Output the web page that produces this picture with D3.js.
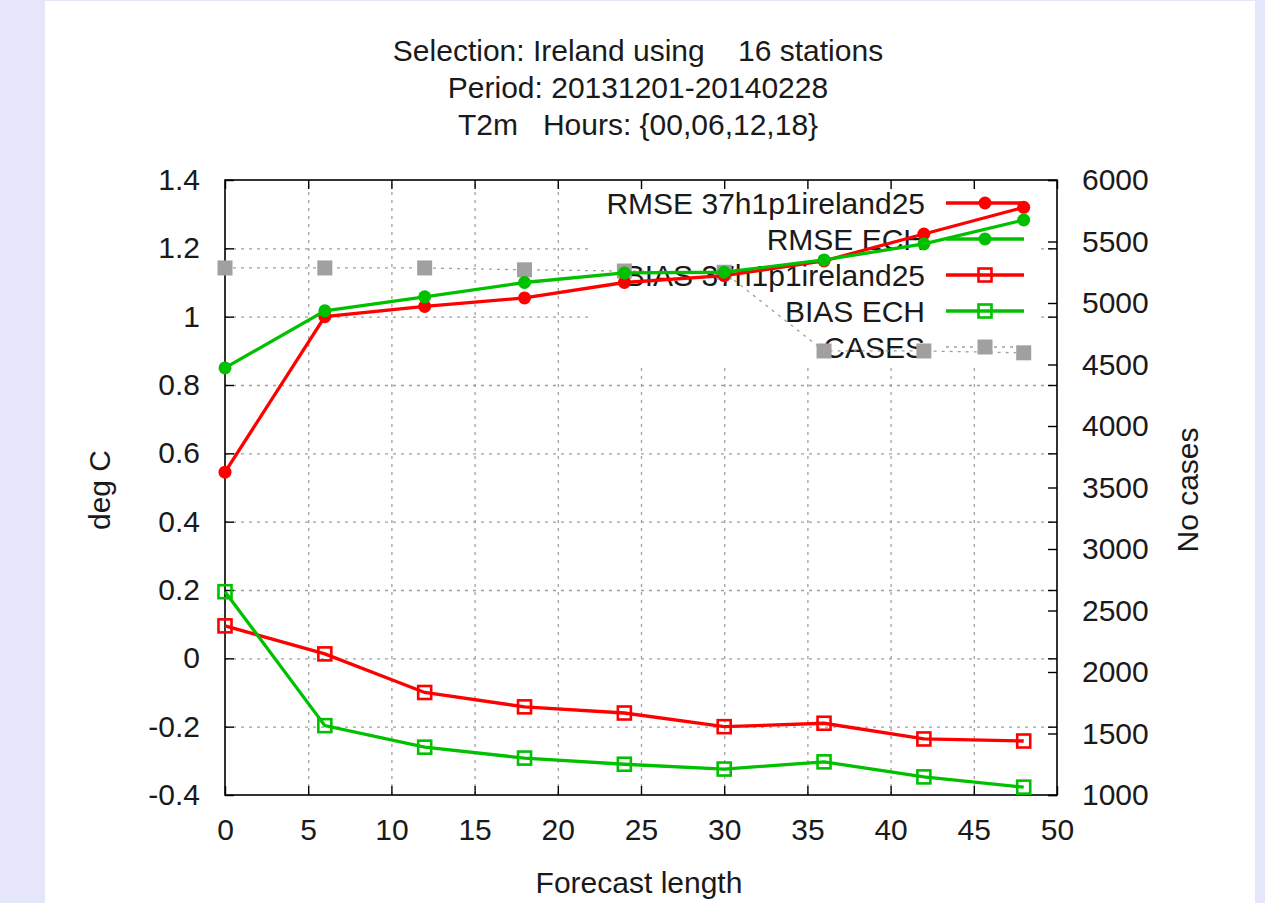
<!DOCTYPE html>
<html lang="en">
<head>
    <meta charset="UTF-8">
    <title>T2m verification Ireland</title>
    <script src="https://d3js.org/d3.v7.min.js"></script>
    <style>
        body {
            margin: 0;
            background: #e6e6fa;
            font-family: "Liberation Sans", Arial, sans-serif;
        }
        svg text {
            fill: #1a1a1a;
            font-size: 30px;
        }
    </style>
</head>
<body>
    <div id="chart"></div>

    <script>
        // Data
        const leadTimes = [0, 6, 12, 18, 24, 30, 36, 42, 48];
        const rmseHarmonie = [0.545, 1.00, 1.03, 1.055, 1.10, 1.12, 1.163, 1.242, 1.32];
        const rmseEch = [0.85, 1.017, 1.058, 1.10, 1.128, 1.13, 1.166, 1.213, 1.283];
        const biasHarmonie = [0.095, 0.013, -0.10, -0.142, -0.16, -0.20, -0.19, -0.236, -0.242];
        const biasEch = [0.195, -0.197, -0.26, -0.292, -0.31, -0.324, -0.303, -0.347, -0.377];
        const cases = [5285, 5285, 5285, 5270, 5260, 5250, 4610, 4610, 4595];

        const xTicks = [0, 5, 10, 15, 20, 25, 30, 35, 40, 45, 50];
        const yTicks = [-0.4, -0.2, 0, 0.2, 0.4, 0.6, 0.8, 1, 1.2, 1.4];
        const y2Ticks = [1000, 1500, 2000, 2500, 3000, 3500, 4000, 4500, 5000, 5500, 6000];

        const titleLines = ["Selection: Ireland using    16 stations", "Period: 20131201-20140228", "T2m   Hours: {00,06,12,18}"];

        const series = [
            { name: "RMSE 37h1p1ireland25", values: rmseHarmonie, color: "#ff0000", marker: "dot" },
            { name: "RMSE ECH", values: rmseEch, color: "#00c000", marker: "dot" },
            { name: "BIAS 37h1p1ireland25", values: biasHarmonie, color: "#ff0000", marker: "box" },
            { name: "BIAS ECH", values: biasEch, color: "#00c000", marker: "box" }
        ];

        const W = 1265, H = 903;
        const plot = { left: 225, right: 1057, top: 180, bottom: 795 };

        const svg = d3.select("#chart")
            .append("svg")
            .attr("width", W)
            .attr("height", H)
            .style("display", "block");

        // white panel on lavender page
        svg.append("rect")
            .attr("x", 45).attr("y", 1)
            .attr("width", 1210).attr("height", H - 1)
            .attr("fill", "#ffffff");

        const x = d3.scaleLinear().domain([0, 50]).range([plot.left, plot.right]);
        const y = d3.scaleLinear().domain([-0.4, 1.4]).range([plot.bottom, plot.top]);
        const y2 = d3.scaleLinear().domain([1000, 6000]).range([plot.bottom, plot.top]);

        const fmt = d => String(+d.toFixed(1));
        const pw = plot.right - plot.left, ph = plot.bottom - plot.top;

        // grid
        const gridStyle = g => {
            g.select(".domain").remove();
            g.selectAll("text").remove();
            g.selectAll("line")
                .attr("stroke", "#a0a0a0")
                .attr("stroke-width", 1.3)
                .attr("stroke-dasharray", "3,5");
        };
        svg.append("g")
            .attr("transform", `translate(0,${plot.bottom})`)
            .call(d3.axisBottom(x).tickValues(xTicks.slice(1, -1)).tickSize(-ph))
            .call(gridStyle);
        svg.append("g")
            .attr("transform", `translate(${plot.left},0)`)
            .call(d3.axisLeft(y).tickValues(yTicks.slice(1, -1)).tickSize(-pw))
            .call(gridStyle);

        // opaque key background
        svg.append("rect")
            .attr("x", 590).attr("y", 183)
            .attr("width", 450).attr("height", 180)
            .attr("fill", "#ffffff");

        // axes with inward ticks
        const axisStyle = g => {
            g.select(".domain").remove();
            g.selectAll("line").attr("stroke", "#000").attr("stroke-width", 1.4);
            g.selectAll("text").attr("fill", "#1a1a1a").style("font-size", "30px")
                .style("font-family", "'Liberation Sans', Arial, sans-serif");
        };
        svg.append("g")
            .attr("transform", `translate(0,${plot.bottom})`)
            .call(d3.axisBottom(x).tickValues(xTicks).tickSize(-9).tickPadding(24).tickFormat(d => d))
            .call(axisStyle);
        svg.append("g")
            .attr("transform", `translate(0,${plot.top})`)
            .call(d3.axisTop(x).tickValues(xTicks).tickSize(-9).tickFormat(""))
            .call(axisStyle);
        svg.append("g")
            .attr("transform", `translate(${plot.left},0)`)
            .call(d3.axisLeft(y).tickValues(yTicks).tickSize(-9).tickPadding(25).tickFormat(fmt))
            .call(axisStyle);
        svg.append("g")
            .attr("transform", `translate(${plot.right},0)`)
            .call(d3.axisRight(y).tickValues(yTicks).tickSize(-9).tickFormat(""))
            .call(axisStyle);
        svg.append("g")
            .attr("transform", `translate(${plot.right},0)`)
            .call(d3.axisRight(y2).tickValues(y2Ticks).tickSize(-9).tickPadding(25).tickFormat(d => d))
            .call(axisStyle);

        svg.append("rect")
            .attr("x", plot.left).attr("y", plot.top)
            .attr("width", pw).attr("height", ph)
            .attr("fill", "none")
            .attr("stroke", "#000")
            .attr("stroke-width", 1.6);

        // titles
        svg.append("g").selectAll("text")
            .data(titleLines)
            .join("text")
            .attr("x", 638)
            .attr("y", (d, i) => 61 + i * 37)
            .attr("text-anchor", "middle")
            .style("white-space", "pre")
            .attr("xml:space", "preserve")
            .text(d => d);

        svg.append("text")
            .attr("x", 639).attr("y", 893)
            .attr("text-anchor", "middle")
            .text("Forecast length");
        svg.append("text")
            .attr("transform", "translate(110,490) rotate(-90)")
            .attr("text-anchor", "middle")
            .text("deg C");
        svg.append("text")
            .attr("transform", "translate(1198,490) rotate(-90)")
            .attr("text-anchor", "middle")
            .text("No cases");

        // key
        const keyRows = series.map(s => s.name).concat(["CASES"]);
        const keyY = i => 203 + i * 36;
        svg.append("g").selectAll("text")
            .data(keyRows)
            .join("text")
            .attr("x", 925)
            .attr("y", (d, i) => keyY(i) + 11)
            .attr("text-anchor", "end")
            .text(d => d);

        const drawMarker = (g, marker, color, cx, cy) => {
            if (marker === "dot") {
                g.append("circle").attr("cx", cx).attr("cy", cy).attr("r", 6.5).attr("fill", color);
            } else if (marker === "box") {
                g.append("rect").attr("x", cx - 6.5).attr("y", cy - 6.5).attr("width", 13).attr("height", 13)
                    .attr("fill", "none").attr("stroke", color).attr("stroke-width", 2.6);
            } else {
                g.append("rect").attr("x", cx - 7.5).attr("y", cy - 7.5).attr("width", 15).attr("height", 15)
                    .attr("fill", color);
            }
        };

        // CASES on the right axis
        const casesLine = d3.line().x((d, i) => x(leadTimes[i])).y(d => y2(d));
        const gc = svg.append("g");
        gc.append("path")
            .attr("d", casesLine(cases))
            .attr("fill", "none")
            .attr("stroke", "#a0a0a0")
            .attr("stroke-width", 1.3)
            .attr("stroke-dasharray", "3,5");
        cases.forEach((v, i) => drawMarker(gc, "fill", "#a0a0a0", x(leadTimes[i]), y2(v)));
        gc.append("line")
            .attr("x1", 946).attr("x2", 1024)
            .attr("y1", keyY(4)).attr("y2", keyY(4))
            .attr("stroke", "#a0a0a0").attr("stroke-width", 1.3).attr("stroke-dasharray", "3,5");
        drawMarker(gc, "fill", "#a0a0a0", 985, keyY(4));

        // scores
        const line = d3.line().x((d, i) => x(leadTimes[i])).y(d => y(d));
        series.forEach((s, k) => {
            const g = svg.append("g");
            g.append("path")
                .attr("d", line(s.values))
                .attr("fill", "none")
                .attr("stroke", s.color)
                .attr("stroke-width", 3.3);
            s.values.forEach((v, i) => drawMarker(g, s.marker, s.color, x(leadTimes[i]), y(v)));
            g.append("line")
                .attr("x1", 946).attr("x2", 1024)
                .attr("y1", keyY(k)).attr("y2", keyY(k))
                .attr("stroke", s.color).attr("stroke-width", 3.3);
            drawMarker(g, s.marker, s.color, 985, keyY(k));
        });
    </script>
</body>
</html>
